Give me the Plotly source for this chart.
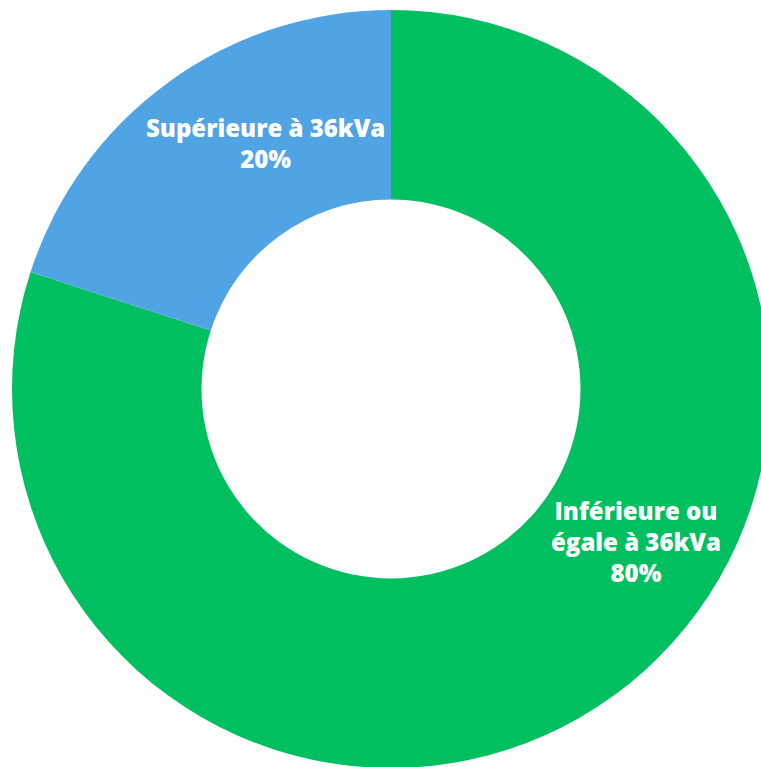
import plotly.graph_objects as go

# Power-rating split of the connections
categories = ["Inférieure ou égale à 36kVa", "Supérieure à 36kVa"]
shares = [80, 20]
slice_labels = ["Inférieure ou<br>égale à 36kVa<br>80%", "Supérieure à 36kVa<br>20%"]
colors = ["#00BF61", "#50A4E4"]

W, H = 782, 778

fig = go.Figure(
    go.Pie(
        labels=categories,
        values=shares,
        hole=0.5,
        sort=False,
        direction="clockwise",
        rotation=0,
        marker=dict(colors=colors, line=dict(width=0)),
        textinfo="none",
        hoverinfo="label+percent",
        showlegend=False,
        domain=dict(x=[12 / W, 770 / W], y=[1 - 768 / H, 1 - 10 / H]),
    )
)

# Slice captions, placed inside each ring segment
label_pos = [(636, 541), (265, 143)]
for text, (px, py) in zip(slice_labels, label_pos):
    fig.add_annotation(
        x=px / W, y=1 - py / H, xref="paper", yref="paper",
        text=text, showarrow=False, align="center",
        xanchor="center", yanchor="middle",
        font=dict(family="Open Sans", size=24, color="#FFFFFF", weight=800),
    )

fig.update_layout(
    width=W, height=H,
    margin=dict(l=0, r=0, t=0, b=0),
    paper_bgcolor="white", plot_bgcolor="white",
)

fig.write_html(
    "out.html",
    post_script="document.body.style.margin='0';document.body.style.overflow='hidden';",
)
